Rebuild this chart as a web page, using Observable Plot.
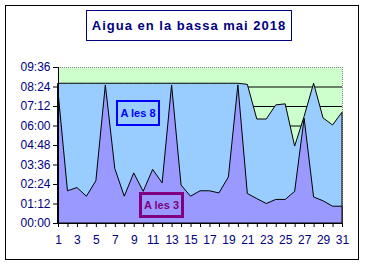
<!DOCTYPE html>
<html><head><meta charset="utf-8">
<script src="https://cdn.jsdelivr.net/npm/d3@7"></script>
<script src="https://cdn.jsdelivr.net/npm/@observablehq/plot@0.6"></script>
<style>
body{margin:0;background:#fff;}
#wrap{position:relative;width:365px;height:265px;font-family:"Liberation Sans",Arial,sans-serif;overflow:hidden;}
#wrap svg{position:absolute;left:0;top:0;}
#border{position:absolute;left:5px;top:5px;width:354px;height:255px;border:1px solid #000;box-sizing:border-box;}
#title{position:absolute;left:86px;top:10px;width:206px;height:31px;border:1px solid #000080;box-sizing:border-box;color:#000080;font-weight:bold;font-size:13px;letter-spacing:1px;text-align:center;line-height:29px;white-space:nowrap;}
.lab{position:absolute;box-sizing:border-box;font-weight:bold;font-size:11px;text-align:center;white-space:nowrap;}
#l8{left:116px;top:100px;width:44px;height:26px;border:2px solid #0000FF;background:#99CCFF;color:#0000FF;line-height:22px;}
#l3{left:139px;top:192px;width:45px;height:26px;border:3px solid #800080;background:#9999FF;color:#800080;line-height:20px;}
</style></head>
<body>
<div id="wrap">
  <div id="border"></div>
  <div id="title">Aigua en la bassa mai 2018</div>
</div>
<script>
const days = [1,2,3,4,5,6,7,8,9,10,11,12,13,14,15,16,17,18,19,20,21,22,23,24,25,26,27,28,29,30,31];
const aLes8 = ["08:36","08:36","08:36","08:36","08:36","08:36","08:36","08:36","08:36","08:36",
               "08:36","08:36","08:36","08:36","08:36","08:36","08:36","08:36","08:36","08:36",
               "08:32","06:24","06:24","07:16","07:20","04:44","06:34","08:36","06:28","06:02","06:49"];
const aLes3 = ["08:06","01:59","02:11","01:39","02:36","08:30","03:21","01:39","03:05","01:57",
               "03:18","02:28","08:30","02:20","01:39","01:59","01:59","01:51","02:50","08:30",
               "01:49","01:30","01:12","01:27","01:27","01:57","06:27","01:36","01:22","01:02","01:02"];
const yTickLabels = ["00:00","01:12","02:24","03:36","04:48","06:00","07:12","08:24","09:36"];
const seriesNames = ["A les 8","A les 3"];

const toMin = s => { const [h,m] = s.split(":").map(Number); return h*60+m; };
const data = days.map((d,i)=>({day:d, v8:toMin(aLes8[i]), v3:toMin(aLes3[i])}));
const yTicks = yTickLabels.map(toMin);
const yMax = yTicks[yTicks.length-1];

const plot = Plot.plot({
  width:365, height:265,
  marginLeft:58, marginRight:23, marginTop:67, marginBottom:42,
  style:{background:"transparent", fontFamily:"'Liberation Sans', Arial, sans-serif", overflow:"visible"},
  x:{domain:[days[0], days[days.length-1]]},
  y:{domain:[0, yMax]},
  marks:[
    Plot.frame({fill:"#CCFFCC"}),
    Plot.ruleY(yTicks.slice(1,-1), {stroke:"black"}),
    Plot.ruleY([yMax], {stroke:"#808080", strokeDasharray:"1,1"}),
    Plot.ruleX([days[days.length-1]], {stroke:"#808080", strokeDasharray:"1,1"}),
    Plot.areaY(data, {x:"day", y:"v8", fill:"#99CCFF", stroke:"black", strokeWidth:1}),
    Plot.areaY(data, {x:"day", y:"v3", fill:"#9999FF", stroke:"black", strokeWidth:1}),
    Plot.ruleX([days[0]], {stroke:"black"}),
    Plot.ruleY([0], {stroke:"black"}),
    Plot.axisY({ticks:yTicks, tickFormat:d=>yTickLabels[yTicks.indexOf(d)], tickSize:5, tickPadding:3, color:"#000080", stroke:"black", fontSize:12, label:null}),
    Plot.axisX({ticks:days, tickFormat:d=> d%2 ? String(d) : "", tickSize:4, tickPadding:8, color:"#000080", stroke:"black", fontSize:12, label:null})
  ]
});
const wrap = document.getElementById("wrap");
wrap.insertBefore(plot, wrap.firstChild);
const l8 = document.createElement("div"); l8.className="lab"; l8.id="l8"; l8.textContent=seriesNames[0]; wrap.appendChild(l8);
const l3 = document.createElement("div"); l3.className="lab"; l3.id="l3"; l3.textContent=seriesNames[1]; wrap.appendChild(l3);
</script>
</body></html>
